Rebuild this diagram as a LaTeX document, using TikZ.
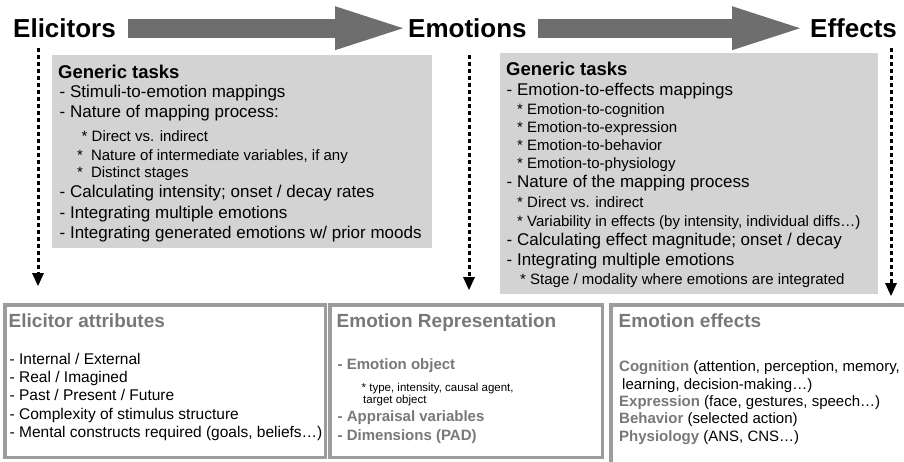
\documentclass[tikz,border=0pt]{standalone}
\usepackage{fontspec}
\setmainfont{Liberation Sans}
\usetikzlibrary{arrows.meta}

\definecolor{flowgray}{HTML}{6E6E6E}
\definecolor{taskgray}{HTML}{D3D3D3}
\definecolor{framegray}{HTML}{9C9C9C}
\definecolor{labelgray}{HTML}{787878}

\newcommand{\efflabel}[1]{\textcolor{labelgray}{\bfseries #1}}

\tikzset{
  stage/.style={font=\fontsize{26}{30}\selectfont\bfseries, inner sep=0pt, anchor=base west},
  flow/.style={draw=flowgray, line width=19pt, -{Triangle[length=68pt, width=44pt, line width=0pt]}},
  drop/.style={line width=3pt, dash pattern=on 3.5pt off 3.5pt, -{Triangle[length=13pt, width=12pt, line width=0pt]}},
  taskbox/.style={fill=taskgray, inner sep=0pt, anchor=north west},
  framebox/.style={draw=framegray, line width=3.5pt, inner sep=0pt, anchor=north west},
  txt/.style={inner sep=0pt, anchor=base west},
  hd/.style={txt, font=\fontsize{18.5}{22}\selectfont\bfseries},
  big/.style={txt, font=\fontsize{17}{20}\selectfont},
  small/.style={txt, font=\fontsize{15}{18}\selectfont},
  item/.style={txt, font=\fontsize{15.5}{18}\selectfont},
  tiny/.style={txt, font=\fontsize{11.5}{13}\selectfont},
  rhd/.style={txt, font=\fontsize{19}{23}\selectfont\bfseries, text=labelgray},
  keyline/.style={txt, font=\fontsize{15}{18}\selectfont\bfseries, text=labelgray}
}

\begin{document}
\begin{tikzpicture}[x=1pt, y=-1pt]
    \useasboundingbox (0,0) rectangle (904,461);

    % stages along the top
    \node[stage] (elic) at (13,37.5) {Elicitors};
    \node[stage] (emo) at (408,37.5) {Emotions};
    \node[stage] (eff) at (810,37.5) {Effects};

    \draw[flow, shorten <=12pt, shorten >=5pt] (elic.east) -- (emo.west);
    \draw[flow, shorten <=11.5pt, shorten >=10pt] (emo.east) -- (eff.west);

    % generic tasks: elicitors -> emotions
    \node[taskbox, minimum width=380pt, minimum height=193pt] (tasks-in) at (52,55) {};
    \node[hd] (tin-head) at (58,78) {Generic tasks};
    \node[big] (tin-1) at (59.5,97.5) {- Stimuli-to-emotion mappings};
    \node[big] (tin-2) at (59.5,117) {- Nature of mapping process:};
    \node[small] (tin-3) at (81.5,141.5) {* Direct vs. indirect};
    \node[small] (tin-4) at (77,160) {*\hspace{8pt}Nature of intermediate variables, if any};
    \node[small] (tin-5) at (77,177.5) {*\hspace{8pt}Distinct stages};
    \node[big] (tin-6) at (59.5,197.5) {- Calculating intensity; onset / decay rates};
    \node[big] (tin-7) at (59.5,218) {- Integrating multiple emotions};
    \node[big] (tin-8) at (59.5,238.5) {- Integrating generated emotions w/ prior moods};

    % generic tasks: emotions -> effects
    \node[taskbox, minimum width=378pt, minimum height=241pt] (tasks-out) at (500,53) {};
    \node[hd] (tout-head) at (506,75.5) {Generic tasks};
    \node[big] (tout-1) at (506.5,95.5) {- Emotion-to-effects mappings};
    \node[small] (tout-2) at (517,114) {* Emotion-to-cognition};
    \node[small] (tout-3) at (517,132.5) {* Emotion-to-expression};
    \node[small] (tout-4) at (517,150.5) {* Emotion-to-behavior};
    \node[small] (tout-5) at (517,168.5) {* Emotion-to-physiology};
    \node[big] (tout-6) at (506.5,187.5) {- Nature of the mapping process};
    \node[small] (tout-7) at (517,207) {* Direct vs. indirect};
    \node[small] (tout-8) at (517,226) {* Variability in effects (by intensity, individual diffs…)};
    \node[big] (tout-9) at (506.5,245.5) {- Calculating effect magnitude; onset / decay};
    \node[big] (tout-10) at (506.5,265) {- Integrating multiple emotions};
    \node[small] (tout-11) at (520,284) {* Stage / modality where emotions are integrated};

    % representation boxes
    \node[framebox, minimum width=320.5pt, minimum height=152.5pt] (attr) at (3,303) {};
    \node[framebox, minimum width=272.5pt, minimum height=152.5pt] (rep) at (328,303) {};
    \node[framebox, minimum width=300pt, minimum height=170pt] (effs) at (609,303) {};

    \node[rhd] (attr-head) at (8.5,327) {Elicitor attributes};
    \node[item] (attr-1) at (9.5,364.5) {- Internal / External};
    \node[item] (attr-2) at (9.5,382.5) {- Real / Imagined};
    \node[item] (attr-3) at (9.5,400.5) {- Past / Present / Future};
    \node[item] (attr-4) at (9.5,419) {- Complexity of stimulus structure};
    \node[item] (attr-5) at (9.5,437.5) {- Mental constructs required (goals, beliefs…)};

    \node[rhd] (rep-head) at (336.5,327) {Emotion Representation};
    \node[keyline] (rep-1) at (337.5,369) {- Emotion object};
    \node[tiny] (rep-2) at (361.5,391) {* type, intensity, causal agent,};
    \node[tiny] (rep-3) at (363,403.5) {target object};
    \node[keyline] (rep-4) at (337.5,421) {- Appraisal variables};
    \node[keyline] (rep-5) at (337.5,440) {- Dimensions (PAD)};

    \node[rhd] (effs-head) at (618.5,327) {Emotion effects};
    \node[small] (effs-1) at (619,371) {\efflabel{Cognition} (attention, perception, memory,};
    \node[small] (effs-2) at (622,389) {learning, decision-making…)};
    \node[small] (effs-3) at (619,406) {\efflabel{Expression} (face, gestures, speech…)};
    \node[small] (effs-4) at (619,423.5) {\efflabel{Behavior} (selected action)};
    \node[small] (effs-5) at (619,441) {\efflabel{Physiology} (ANS, CNS…)};

    % dotted drops down to the boxes
    \coordinate (elic-drop) at (38,48);
    \coordinate (attr-in) at (38,286);
    \coordinate (emo-drop) at (469,55);
    \coordinate (rep-in) at (469,290);
    \coordinate (eff-drop) at (891,48);
    \coordinate (effs-in) at (891,296);

    \draw[drop] (elic-drop) -- (attr-in);
    \draw[drop] (emo-drop) -- (rep-in);
    \draw[drop] (eff-drop) -- (effs-in);
\end{tikzpicture}
\end{document}
